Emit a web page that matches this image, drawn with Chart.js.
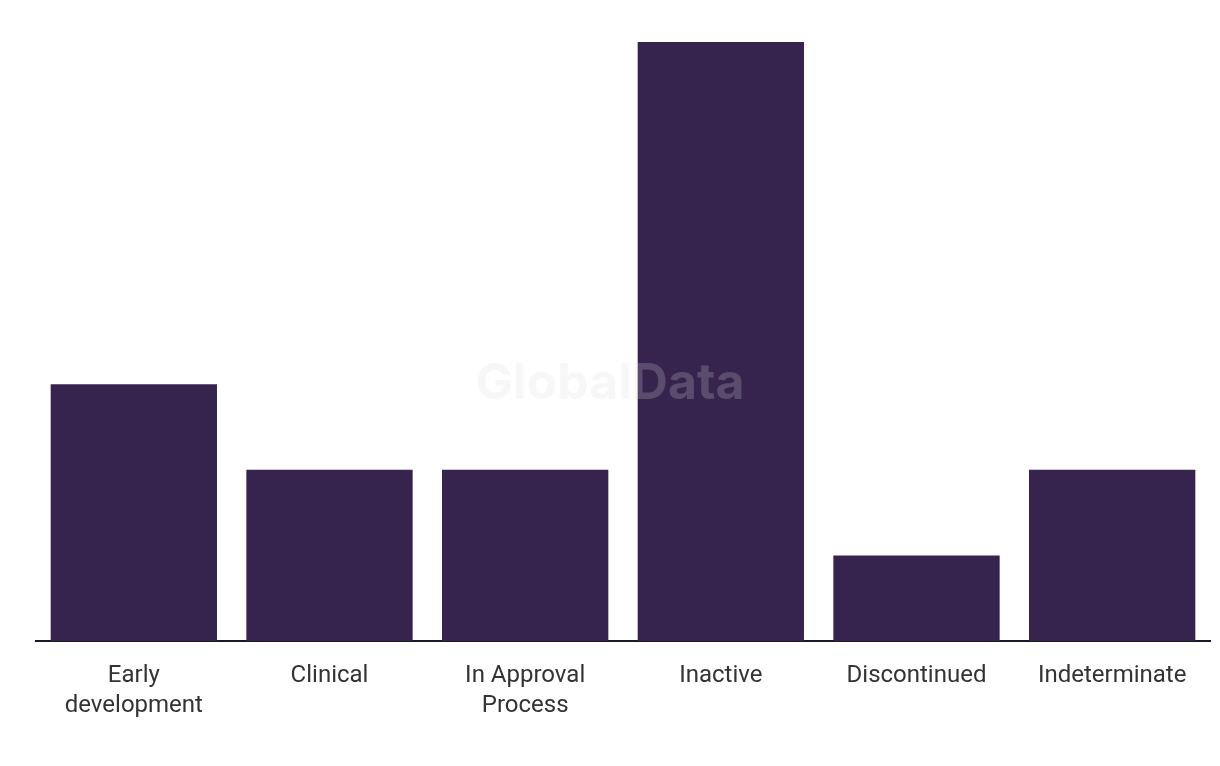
<!DOCTYPE html>
<html>
<head>
<meta charset="utf-8">
<script src="https://cdn.jsdelivr.net/npm/chart.js@4/dist/chart.umd.min.js"></script>
<style>
  html, body { margin: 0; padding: 0; background: #fff; }
  #wrap { width: 1220px; height: 766px; }
</style>
</head>
<body>
<div id="wrap"><canvas id="chart"></canvas></div>
<script>
const categories = [["Early", "development"], "Clinical", ["In Approval", "Process"], "Inactive", "Discontinued", "Indeterminate"];
const counts = [3, 2, 2, 7, 1, 2];

const watermark = {
    id: "watermark",
    afterDraw: (chart) => {
        const ctx = chart.ctx;
        ctx.save();
        ctx.font = "bold 50px 'Inter', 'Liberation Sans', sans-serif";
        ctx.fillStyle = "rgba(219, 219, 219, 0.22)";
        ctx.textAlign = "center";
        ctx.textBaseline = "middle";
        ctx.fillText("GlobalData", 610, 384);
        ctx.restore();
    },
};

const ctx = document.getElementById("chart").getContext("2d");
new Chart(ctx, {
    type: "bar",
    data: {
        labels: categories,
        datasets: [
            {
                data: counts,
                backgroundColor: "#36244f",
                borderWidth: 0,
                categoryPercentage: 1,
                barPercentage: 0.85,
            },
        ],
    },
    options: {
        responsive: true,
        maintainAspectRatio: false,
        animation: false,
        layout: { padding: { left: 36, right: 10, top: 42, bottom: 0 } },
        plugins: {
            legend: { display: false },
            tooltip: { enabled: false },
        },
        scales: {
            x: {
                grid: { display: false },
                border: { display: true, color: "#1c1826", width: 2 },
                ticks: {
                    color: "#333333",
                    padding: 12,
                    maxRotation: 0,
                    font: { family: "'Roboto', sans-serif", size: 24, lineHeight: "30px" },
                },
                afterFit: (scale) => { scale.height = 125; },
            },
            y: {
                display: false,
                min: 0,
                max: 7,
            },
        },
    },
    plugins: [watermark],
});
</script>
</body>
</html>
